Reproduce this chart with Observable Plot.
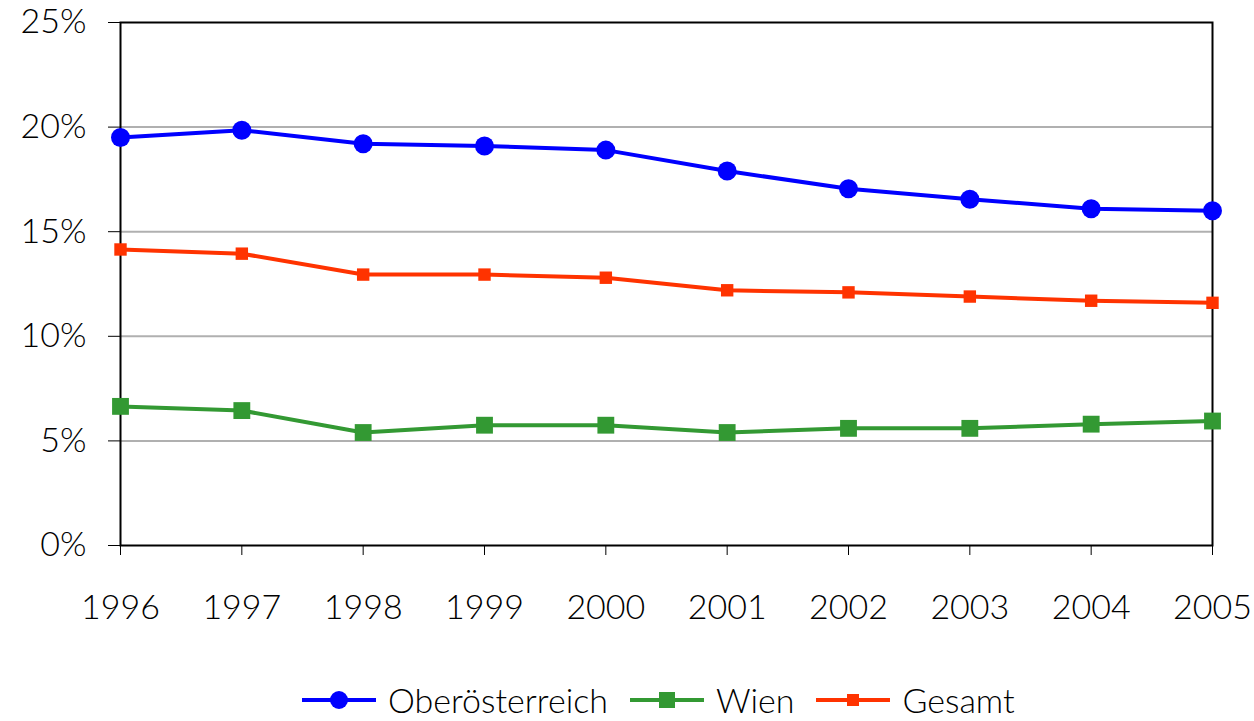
<!DOCTYPE html>
<html><head><meta charset="utf-8">
<script src="https://cdn.jsdelivr.net/npm/d3@7"></script>
<script src="https://cdn.jsdelivr.net/npm/@observablehq/plot@0.6"></script>
<style>
body{margin:0;background:#fff;font-family:Lato,sans-serif;}
#legend{display:flex;justify-content:flex-start;margin-left:302px;margin-top:42px;font-size:34px;font-weight:300;color:#000;line-height:36px;}
.item{display:flex;align-items:center;margin-right:22px;}
.item svg{margin-right:12px;}
</style></head><body>
<div id="chart"></div>
<div id="legend"></div>
<script>
const years = [1996,1997,1998,1999,2000,2001,2002,2003,2004,2005];
const oberoesterreich = [19.5,19.85,19.2,19.1,18.9,17.9,17.05,16.55,16.1,16.0];
const wien = [6.65,6.45,5.4,5.75,5.75,5.4,5.6,5.6,5.8,5.95];
const gesamt = [14.15,13.95,12.95,12.95,12.8,12.2,12.1,11.9,11.7,11.6];
const seriesNames = ["Oberösterreich","Wien","Gesamt"];
const colors = ["#0000ff","#339933","#ff3300"];
const yTicks = [0,5,10,15,20,25];

const seriesValues = [oberoesterreich, wien, gesamt];
const data = seriesNames.flatMap((s,i)=>years.map((y,j)=>({series:s, year:y, value:seriesValues[i][j]})));

const chart = Plot.plot({
  width:1254, height:640,
  marginLeft:120, marginRight:42, marginTop:22, marginBottom:95,
  style:{fontFamily:"Lato, sans-serif", fontSize:"34px", fontWeight:300, color:"#000"},
  x:{domain:[1996,2005], label:null},
  y:{domain:[0,25], label:null},
  color:{domain:seriesNames, range:colors},
  marks:[
    Plot.ruleY([5,10,15,20], {stroke:"#b0b0b0", strokeWidth:2}),
    Plot.frame({stroke:"#000", strokeWidth:2}),
    Plot.axisY({ticks:yTicks, tickFormat:d=>d+"%", tickSize:12, tickPadding:22, stroke:"#000", strokeWidth:1, fontSize:34}),
    Plot.axisX({ticks:years, tickFormat:d=>String(d), tickSize:10, tickPadding:39, stroke:"#000", fontSize:34}),
    Plot.line(data, {x:"year", y:"value", z:"series", stroke:"series", strokeWidth:4}),
    Plot.dot(data.filter(d=>d.series==="Oberösterreich"), {x:"year", y:"value", fill:"#0000ff", r:9.5, symbol:"circle"}),
    Plot.dot(data.filter(d=>d.series==="Wien"), {x:"year", y:"value", fill:"#339933", r:9.5, symbol:"square"}),
    Plot.dot(data.filter(d=>d.series==="Gesamt"), {x:"year", y:"value", fill:"#ff3300", r:7, symbol:"square"})
  ]
});
document.getElementById("chart").append(chart);

const legend = document.getElementById("legend");
const markers = ['<circle cx="37" cy="15" r="9" fill="#0000ff"/>',
  '<rect x="29" y="7" width="16" height="16" fill="#339933"/>',
  '<rect x="31" y="9" width="12" height="12" fill="#ff3300"/>'];
seriesNames.forEach((s,i)=>{
  const it = document.createElement("div"); it.className="item";
  it.innerHTML = `<svg width="74" height="30"><line x1="0" x2="74" y1="15" y2="15" stroke="${colors[i]}" stroke-width="4"/>${markers[i]}</svg><span>${s}</span>`;
  legend.append(it);
});
</script>
</body></html>
